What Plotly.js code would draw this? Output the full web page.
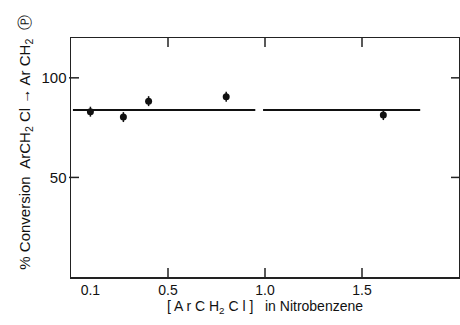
<!DOCTYPE html>
<html><head><meta charset="utf-8">
<script src="https://cdn.plot.ly/plotly-3.0.1.min.js"></script>
<style>html,body{margin:0;padding:0;background:#fff}#chart{width:460px;height:325px}</style>
</head><body><div id="chart"></div>
<script>
// Data
const concentration = [0.1, 0.27, 0.40, 0.80, 1.61];
const conversion = [83, 80.3, 88.3, 90.5, 81.3];
const conversionErr = [2.5, 2.5, 2.5, 2.5, 2.5];
// Mean line (drawn in two pieces as in the print)
const meanLineX1 = [0.01, 0.95];
const meanLineX2 = [0.99, 1.80];
const meanValue = 83.8;
const xTickVals = [0.1, 0.5, 1.0, 1.5];
const xTickText = ['0.1', '0.5', '1.0', '1.5'];
const xMarkVals = [0.5, 1.0, 1.5];
const yTickVals = [50, 100];
const yTickText = ['50', '100'];

const font = {family: 'Liberation Sans, Arial, sans-serif', color: '#111'};
const traces = [
  {x: meanLineX1, y: meanLineX1.map(() => meanValue), mode: 'lines', line: {color: '#111', width: 2}, hoverinfo: 'skip'},
  {x: meanLineX2, y: meanLineX2.map(() => meanValue), mode: 'lines', line: {color: '#111', width: 2}, hoverinfo: 'skip'},
  {x: concentration, y: conversion, mode: 'markers', marker: {color: '#111', size: 7},
   error_y: {type: 'data', array: conversionErr, visible: true, color: '#111', thickness: 1.5, width: 0}}
];

// Inward tick marks on all four sides, placed through the axis scales
const tickLine = {color: '#222', width: 1.5};
const shapes = [];
xMarkVals.forEach(v => {
  shapes.push({type: 'line', xref: 'x', yref: 'paper', ysizemode: 'pixel', yanchor: 0, x0: v, x1: v, y0: 0, y1: 9, line: tickLine});
  shapes.push({type: 'line', xref: 'x', yref: 'paper', ysizemode: 'pixel', yanchor: 1, x0: v, x1: v, y0: 0, y1: -9, line: tickLine});
});
yTickVals.forEach(v => {
  shapes.push({type: 'line', xref: 'paper', yref: 'y', xsizemode: 'pixel', xanchor: 0, x0: -2, x1: 8, y0: v, y1: v, line: tickLine});
  shapes.push({type: 'line', xref: 'paper', yref: 'y', xsizemode: 'pixel', xanchor: 1, x0: 0, x1: -8, y0: v, y1: v, line: tickLine});
});

const layout = {
  width: 460, height: 325,
  margin: {l: 71, r: 1, t: 38, b: 48},
  showlegend: false,
  font: Object.assign({size: 14}, font),
  xaxis: {range: [0, 2.0], tickmode: 'array', tickvals: xTickVals, ticktext: xTickText, ticks: '',
    showgrid: false, zeroline: false, showline: true, linecolor: '#222', linewidth: 1.5, mirror: true,
    tickfont: Object.assign({size: 14}, font),
    title: {text: '[ A r C H<sub>2</sub> C l ]   in Nitrobenzene', font: Object.assign({size: 14}, font), standoff: 0}},
  yaxis: {range: [0, 120], tickmode: 'array', tickvals: yTickVals, ticktext: yTickText, ticks: '',
    mirror: true, showline: true, linecolor: '#222', linewidth: 1.5, showgrid: false, zeroline: false,
    tickfont: Object.assign({size: 15}, font)},
  shapes: shapes,
  annotations: [{text: '% Conversion  ArCH<sub>2</sub> Cl \u2192 Ar CH<sub>2</sub>  \u24C5', xref: 'paper', yref: 'paper',
    x: 0, y: 0.56, xshift: -57, textangle: -90, showarrow: false, font: Object.assign({size: 15}, font)}]
};
Plotly.newPlot('chart', traces, layout, {displayModeBar: false, staticPlot: true});
</script></body></html>
